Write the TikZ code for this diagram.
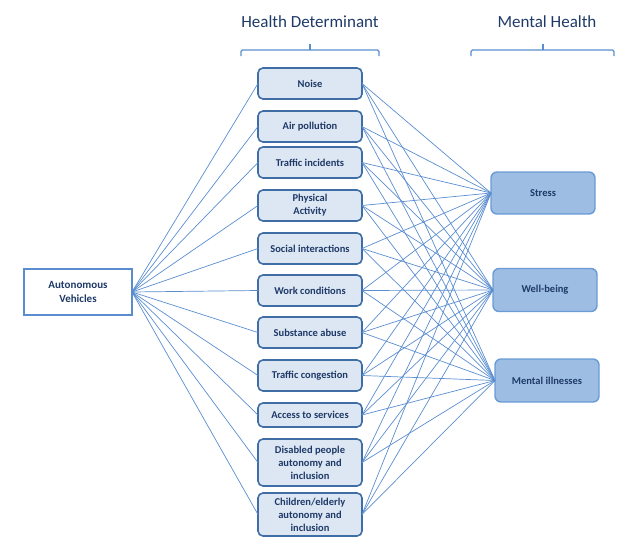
\documentclass[tikz,border=0pt]{standalone}
\usepackage{fontspec}
\setmainfont{Carlito}
\usetikzlibrary{positioning}
\definecolor{navytext}{HTML}{1F3A68}
\definecolor{boxedge}{HTML}{3F6EA6}
\definecolor{boxfill}{HTML}{DDE7F3}
\definecolor{outfill}{HTML}{9DBDE2}
\definecolor{outedge}{HTML}{6A9BD6}
\definecolor{linkblue}{HTML}{5A8DCF}

\begin{document}
\begin{tikzpicture}[
    x=1pt, y=1pt,
    factor/.style={rectangle, rounded corners=5pt, draw=boxedge, line width=1.6pt, fill=boxfill, minimum width=104pt, minimum height=31pt, inner sep=2pt, outer sep=0pt, align=center, text=navytext, font=\fontsize{10.5}{13}\selectfont\bfseries},
    outcome/.style={rectangle, rounded corners=6pt, draw=outedge, line width=1.4pt, fill=outfill, minimum width=104pt, minimum height=42pt, outer sep=0pt, align=center, text=navytext, font=\fontsize{10.5}{13}\selectfont\bfseries},
    source/.style={rectangle, draw=linkblue, line width=1.6pt, fill=white, minimum width=108pt, minimum height=46pt, outer sep=0pt, align=center, text=navytext, font=\fontsize{11}{13.5}\selectfont\bfseries},
    header/.style={text=navytext, font=\fontsize{17}{20}\selectfont},
    brace/.style={draw=linkblue, line width=1.1pt, rounded corners=1.5pt},
    link/.style={draw=linkblue, line width=0.7pt}
]
\useasboundingbox (0,0) rectangle (630,-549);

% Headers
\node[header] (hdet) at (310,-22) {Health Determinant};
\node[header] (hmen) at (547,-22) {Mental Health};
\draw[brace] (241,-56) -- (241,-50) -- (379,-50) -- (379,-56);
\draw[brace] (310,-50) -- (310,-44);
\draw[brace] (471,-56) -- (471,-50) -- (614,-50) -- (614,-56);
\draw[brace] (543,-50) -- (543,-44);

% Source
\node[source] (vehicles) at (78,-292) {Autonomous\\Vehicles};

% Health determinants
\node[factor, anchor=north] (noise) at (310,-68) {Noise};
\node[factor, below=12pt of noise] (air) {Air pollution};
\node[factor, below=5pt of air] (incidents) {Traffic incidents};
\node[factor, below=12pt of incidents] (activity) {Physical\\Activity};
\node[factor, below=12pt of activity] (social) {Social interactions};
\node[factor, below=11pt of social] (work) {Work conditions};
\node[factor, below=11pt of work] (substance) {Substance abuse};
\node[factor, below=12pt of substance] (congestion) {Traffic congestion};
\node[factor, below=12pt of congestion, minimum height=24pt] (access) {Access to services};
\node[factor, below=12pt of access, minimum height=47pt] (disabled) {Disabled people\\autonomy and\\inclusion};
\node[factor, below=7pt of disabled, minimum height=43pt] (children) {Children/elderly\\autonomy and\\inclusion};

% Mental health outcomes
\node[outcome] (stress) at (543,-193) {Stress};
\node[outcome, minimum height=43pt] (wellbeing) at (545,-290) {Well-being};
\node[outcome, minimum height=43pt] (illness) at (547,-380.5) {Mental illnesses};

% Links
\foreach \f in {noise,air,incidents,activity,social,work,substance,congestion,access,disabled,children}{
    \draw[link] (vehicles.east) -- (\f.west);
    \foreach \o in {stress,wellbeing,illness}
        \draw[link] (\f.east) -- (\o.west);
}

\end{tikzpicture}
\end{document}
